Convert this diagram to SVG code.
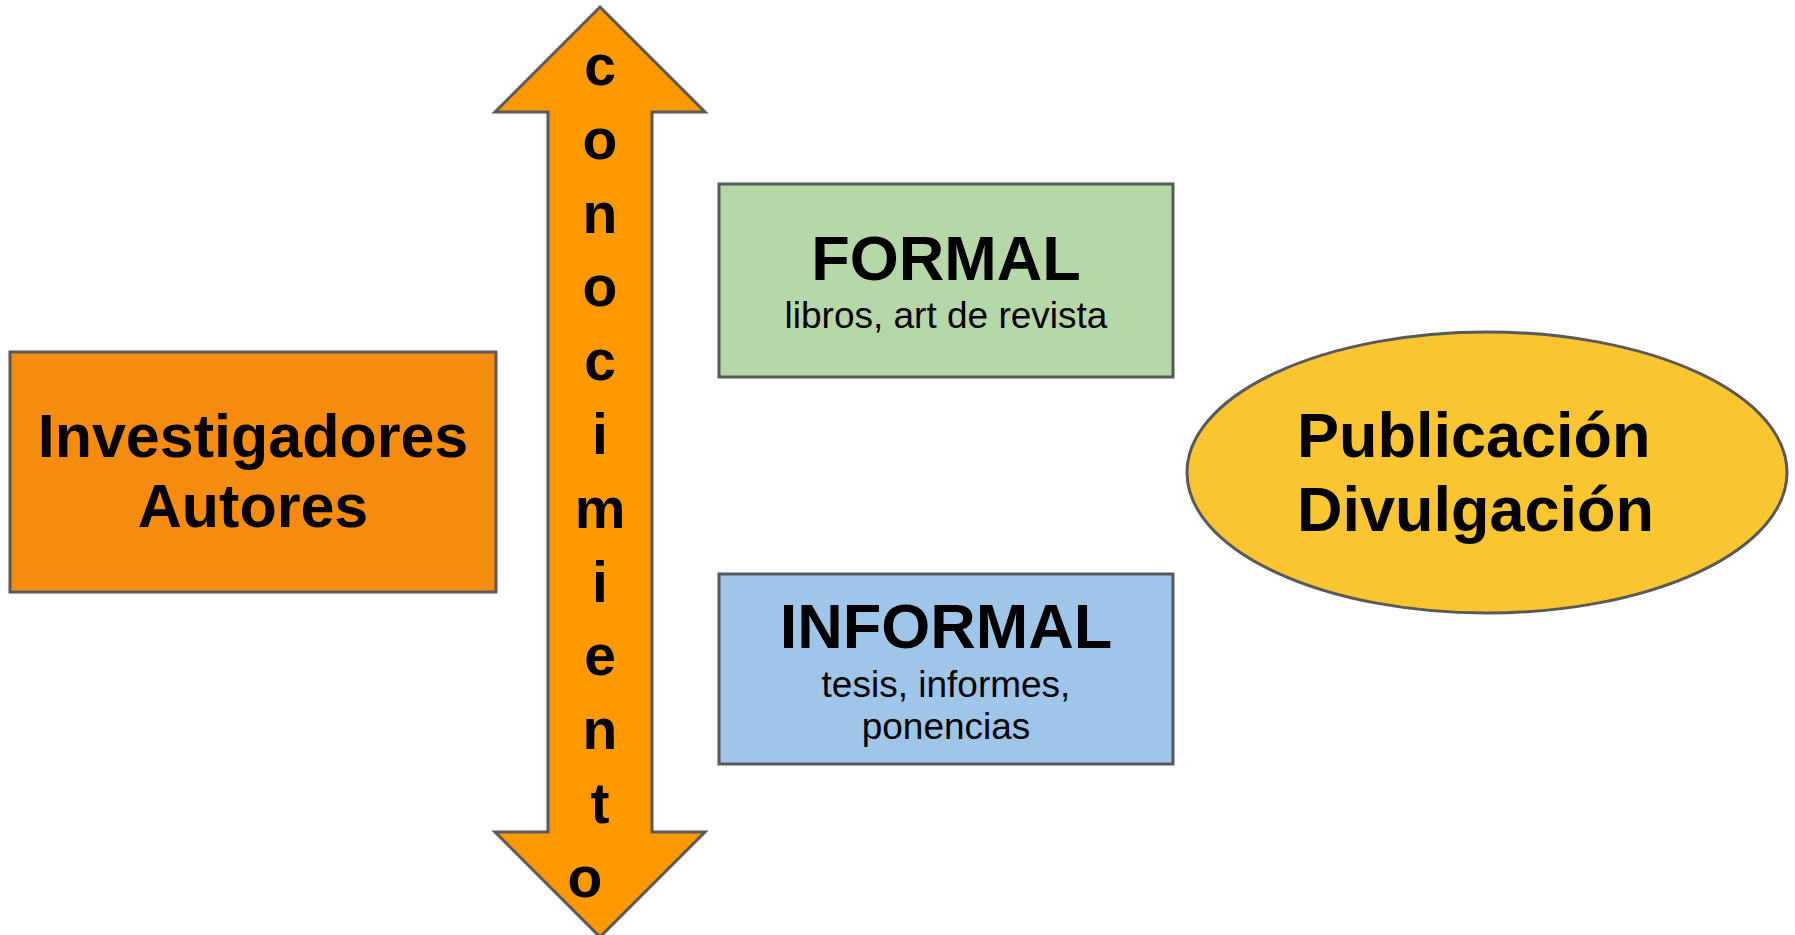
<svg xmlns="http://www.w3.org/2000/svg" width="1795" height="935" viewBox="0 0 1795 935">
<style>
.sh{stroke:#595959;stroke-width:3;stroke-linejoin:miter}
.b{font-family:"Liberation Sans",Arial,sans-serif;font-weight:bold;fill:#000}
.r{font-family:"Liberation Sans",Arial,sans-serif;fill:#000}
</style>
<rect width="1795" height="935" fill="#fff"/>
<g id="connectors">
<g id="arrow-conocimiento">
<polygon class="sh" fill="#FF9900" points="600,7 705,112 652,112 652,832 705,832 600,937 495,832 548,832 548,112 495,112"/>
<g class="b" font-size="57" text-anchor="middle">
<text x="600" y="85">c</text>
<text x="600" y="159">o</text>
<text x="600" y="233">n</text>
<text x="600" y="306">o</text>
<text x="600" y="380">c</text>
<text x="600" y="454">i</text>
<text x="600" y="528">m</text>
<text x="600" y="602">i</text>
<text x="600" y="675">e</text>
<text x="600" y="749">n</text>
<text x="600" y="823">t</text>
<text x="585" y="897">o</text>
</g>
</g>
</g>
<g id="investigadores">
<rect class="sh" x="10" y="352" width="486" height="240" fill="#F58C10"/>
<text class="b" font-size="61" x="253" y="457" text-anchor="middle">Investigadores</text>
<text class="b" font-size="61" x="253" y="527" text-anchor="middle">Autores</text>
</g>
<g id="formal">
<rect class="sh" x="719" y="184" width="454" height="193" fill="#B6D7A8"/>
<text class="b" font-size="63" x="946" y="280" text-anchor="middle">FORMAL</text>
<text class="r" font-size="37" x="946" y="328" text-anchor="middle">libros, art de revista</text>
</g>
<g id="informal">
<rect class="sh" x="719" y="574" width="454" height="190" fill="#9FC5E8"/>
<text class="b" font-size="63" x="946" y="648" text-anchor="middle">INFORMAL</text>
<text class="r" font-size="37" x="946" y="697" text-anchor="middle">tesis, informes,</text>
<text class="r" font-size="37" x="946" y="739" text-anchor="middle">ponencias</text>
</g>
<g id="publicacion">
<ellipse class="sh" cx="1487" cy="472.5" rx="300" ry="140.5" fill="#F9C530"/>
<text class="b" font-size="63" x="1297" y="457">Publicación</text>
<text class="b" font-size="63" x="1297" y="531">Divulgación</text>
</g>
</svg>
